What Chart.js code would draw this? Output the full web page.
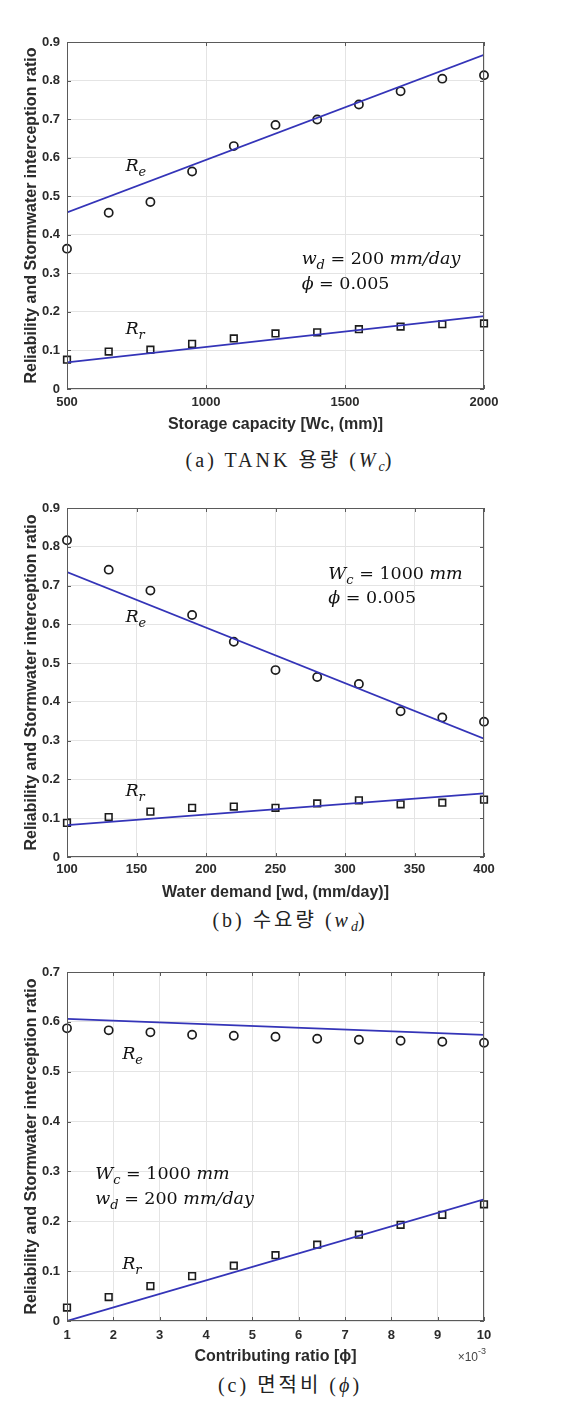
<!DOCTYPE html>
<html>
<head>
<meta charset="utf-8">
<script src="https://cdn.jsdelivr.net/npm/chart.js@4.4.1/dist/chart.umd.min.js"></script>
<style>
  body { margin: 0; background: #fff; width: 574px; height: 1414px; position: relative; overflow: hidden; }
  canvas.panel { position: absolute; left: 0; }
  .caption {
    position: absolute; left: 0; width: 580px; text-align: center;
    font-family: "Liberation Serif", "Noto Sans CJK KR", serif;
    font-size: 20px; letter-spacing: 3px; color: #222; line-height: 24px;
  }
  .caption sub { font-size: 14px; vertical-align: -4px; line-height: 0; letter-spacing: 0; }
</style>
</head>
<body>
<canvas id="chartA" class="panel" width="574" height="440" style="top:0px"></canvas>
<div class="caption" style="top:448px">(a) TANK 용량 (<i>W<sub>c</sub></i>)</div>
<canvas id="chartB" class="panel" width="574" height="440" style="top:466px"></canvas>
<div class="caption" style="top:908px">(b) 수요량 (<i>w<sub>d</sub></i>)</div>
<canvas id="chartC" class="panel" width="574" height="440" style="top:930px"></canvas>
<div class="caption" style="top:1373px">(c) 면적비 (<i>ϕ</i>)</div>

<script>
// (a) storage capacity Wc [mm]
const wcX = [500, 650, 800, 950, 1100, 1250, 1400, 1550, 1700, 1850, 2000];
const wcRe = [0.364, 0.457, 0.485, 0.564, 0.630, 0.685, 0.699, 0.738, 0.772, 0.805, 0.814];
const wcRr = [0.076, 0.097, 0.102, 0.117, 0.131, 0.144, 0.147, 0.155, 0.162, 0.168, 0.170];
const wcLineX = [500, 2000];
const wcReLine = [0.458, 0.867];
const wcRrLine = [0.069, 0.189];

// (b) water demand wd [mm/day]
const wdX = [100, 130, 160, 190, 220, 250, 280, 310, 340, 370, 400];
const wdRe = [0.817, 0.741, 0.687, 0.624, 0.555, 0.482, 0.464, 0.446, 0.376, 0.360, 0.349];
const wdRr = [0.088, 0.103, 0.117, 0.127, 0.130, 0.127, 0.138, 0.146, 0.136, 0.140, 0.148];
const wdLineX = [100, 400];
const wdReLine = [0.735, 0.305];
const wdRrLine = [0.082, 0.164];

// (c) contributing ratio phi
const phiX = [0.001, 0.0019, 0.0028, 0.0037, 0.0046, 0.0055, 0.0064, 0.0073, 0.0082, 0.0091, 0.010];
const phiRe = [0.587, 0.583, 0.579, 0.574, 0.572, 0.570, 0.566, 0.564, 0.562, 0.560, 0.558];
const phiRr = [0.027, 0.048, 0.070, 0.090, 0.111, 0.132, 0.153, 0.173, 0.193, 0.213, 0.234];
const phiLineX = [0.001, 0.010];
const phiReLine = [0.606, 0.574];
const phiRrLine = [0.000, 0.244];

const BLUE = "#3434b8";
const INK = "#1c1c1c";
const AXIS = "#5a5a5a";
const TXT = "#2b2b2b";

const pts = (xs, ys) => xs.map((x, i) => ({ x, y: ys[i] }));

// math-ish text: [text, kind] with kind r (upright), i (italic), sub (italic subscript)
function drawMath(ctx, x, y, parts, size) {
  let cx = x;
  const base = y + size * 0.33;
  ctx.textAlign = "left";
  ctx.textBaseline = "alphabetic";
  ctx.fillStyle = "#111";
  parts.forEach(([txt, kind]) => {
    const sub = kind === "sub";
    const fs = sub ? Math.round(size * 0.72) : size;
    ctx.font = `${kind === "r" ? "" : "italic "}${fs}px "DejaVu Serif"`;
    ctx.fillText(txt, cx, base + (sub ? size * 0.28 : 0));
    cx += ctx.measureText(txt).width;
  });
}

function boxPlugin(notes, exponent) {
  return {
    id: "boxAndNotes",
    afterDraw(chart) {
      const { ctx, chartArea: a, scales } = chart;
      ctx.save();
      ctx.strokeStyle = AXIS;
      ctx.lineWidth = 1;
      ctx.strokeRect(a.left + 0.5, a.top + 0.5, a.right - a.left - 1, a.bottom - a.top - 1);
      // inward tick marks like matlab
      const tl = 4;
      ctx.beginPath();
      scales.x.ticks.forEach((t) => {
        const px = Math.round(scales.x.getPixelForValue(t.value)) + 0.5;
        ctx.moveTo(px, a.bottom); ctx.lineTo(px, a.bottom - tl);
        ctx.moveTo(px, a.top); ctx.lineTo(px, a.top + tl);
      });
      scales.y.ticks.forEach((t) => {
        const py = Math.round(scales.y.getPixelForValue(t.value)) + 0.5;
        ctx.moveTo(a.left, py); ctx.lineTo(a.left + tl, py);
        ctx.moveTo(a.right, py); ctx.lineTo(a.right - tl, py);
      });
      ctx.stroke();

      notes.forEach((n) => {
        drawMath(ctx, scales.x.getPixelForValue(n.x), scales.y.getPixelForValue(n.y), n.parts, n.size || 17.5);
      });

      if (exponent) {
        ctx.fillStyle = "#444";
        ctx.textBaseline = "middle";
        ctx.textAlign = "left";
        ctx.font = '12px "Liberation Sans"';
        const w1 = ctx.measureText("\u00d710").width;
        ctx.font = '9px "Liberation Sans"';
        const w2 = ctx.measureText("-3").width;
        const x0 = a.right - w1 - w2 + 2;
        ctx.font = '12px "Liberation Sans"';
        ctx.fillText("\u00d710", x0, a.bottom + 37);
        ctx.font = '9px "Liberation Sans"';
        ctx.fillText("-3", x0 + w1, a.bottom + 31);
      }
      ctx.restore();
    },
  };
}

function makeChart(id, cfg) {
  const tickFont = { family: "Liberation Sans", size: 13, weight: "bold" };
  const titleFont = { family: "Liberation Sans", size: 16, weight: "bold" };
  const mark = { clip: false, backgroundColor: "rgba(0,0,0,0)", borderColor: INK };
  return new Chart(document.getElementById(id), {
    type: "scatter",
    data: {
      datasets: [
        { data: pts(cfg.lineX, cfg.reLine), showLine: true, pointRadius: 0, borderColor: BLUE, borderWidth: 1.7 },
        { data: pts(cfg.lineX, cfg.rrLine), showLine: true, pointRadius: 0, borderColor: BLUE, borderWidth: 1.7 },
        { ...mark, data: pts(cfg.x, cfg.re), pointStyle: "circle", pointRadius: 4.1, borderWidth: 1.7 },
        { ...mark, data: pts(cfg.x, cfg.rr), pointStyle: "rect", pointRadius: 4.7, borderWidth: 1.6 },
      ],
    },
    options: {
      responsive: false,
      animation: false,
      devicePixelRatio: 1,
      layout: { padding: { top: 42, right: 90, left: 0, bottom: 0 } },
      plugins: { legend: { display: false }, tooltip: { enabled: false } },
      scales: {
        x: {
          type: "linear",
          min: cfg.xMin,
          max: cfg.xMax,
          afterFit: (s) => { s.height = cfg.xAxisH; },
          border: { display: false },
          grid: { color: "#e4e4e4", drawTicks: false },
          ticks: {
            stepSize: cfg.xStep,
            padding: cfg.xTickPad,
            color: TXT,
            font: tickFont,
            maxRotation: 0,
            autoSkip: false,
            callback: cfg.xFmt || ((v) => String(v)),
          },
          title: { display: true, text: cfg.xTitle, color: TXT, font: titleFont, padding: { top: 0, bottom: cfg.xTitlePad } },
        },
        y: {
          min: 0,
          max: cfg.yMax,
          afterFit: (s) => { s.width = 67; },
          border: { display: false },
          grid: { color: "#e4e4e4", drawTicks: false },
          ticks: {
            stepSize: 0.1,
            padding: 7,
            color: TXT,
            font: tickFont,
            callback: (v) => String(+v.toFixed(2)),
          },
          title: { display: true, text: "Reliability and Stormwater interception ratio", color: TXT, font: titleFont, padding: { top: 22, bottom: 0 } },
        },
      },
    },
    plugins: [boxPlugin(cfg.notes, cfg.exponent)],
  });
}

makeChart("chartA", {
  x: wcX, re: wcRe, rr: wcRr, lineX: wcLineX, reLine: wcReLine, rrLine: wcRrLine,
  xMin: 500, xMax: 2000, xStep: 500, yMax: 0.9,
  xAxisH: 51, xTickPad: 6, xTitlePad: 6,
  xTitle: "Storage capacity [Wc, (mm)]",
  notes: [
    { x: 710, y: 0.58, parts: [["R", "i"], ["e", "sub"]] },
    { x: 710, y: 0.157, parts: [["R", "i"], ["r", "sub"]] },
    { x: 1344, y: 0.339, parts: [["w", "i"], ["d", "sub"], [" = 200 ", "r"], ["mm/day", "i"]] },
    { x: 1344, y: 0.274, parts: [["ϕ", "i"], [" = 0.005", "r"]] },
  ],
});

makeChart("chartB", {
  x: wdX, re: wdRe, rr: wdRr, lineX: wdLineX, reLine: wdReLine, rrLine: wdRrLine,
  xMin: 100, xMax: 400, xStep: 50, yMax: 0.9,
  xAxisH: 49, xTickPad: 5, xTitlePad: 4,
  xTitle: "Water demand [wd, (mm/day)]",
  notes: [
    { x: 142, y: 0.62, parts: [["R", "i"], ["e", "sub"]] },
    { x: 142, y: 0.172, parts: [["R", "i"], ["r", "sub"]] },
    { x: 288, y: 0.731, parts: [["W", "i"], ["c", "sub"], [" = 1000 ", "r"], ["mm", "i"]] },
    { x: 288, y: 0.669, parts: [["ϕ", "i"], [" = 0.005", "r"]] },
  ],
});

makeChart("chartC", {
  x: phiX, re: phiRe, rr: phiRr, lineX: phiLineX, reLine: phiReLine, rrLine: phiRrLine,
  xMin: 0.001, xMax: 0.01, xStep: 0.001, yMax: 0.7,
  xAxisH: 49, xTickPad: 7, xTitlePad: 4,
  xTitle: "Contributing ratio [ϕ]",
  xFmt: (v) => String(Math.round(v * 1000)),
  exponent: true,
  notes: [
    { x: 0.00219, y: 0.537, parts: [["R", "i"], ["e", "sub"]] },
    { x: 0.00219, y: 0.116, parts: [["R", "i"], ["r", "sub"]] },
    { x: 0.00161, y: 0.296, parts: [["W", "i"], ["c", "sub"], [" = 1000 ", "r"], ["mm", "i"]] },
    { x: 0.00161, y: 0.246, parts: [["w", "i"], ["d", "sub"], [" = 200 ", "r"], ["mm/day", "i"]] },
  ],
});
</script>
</body>
</html>
